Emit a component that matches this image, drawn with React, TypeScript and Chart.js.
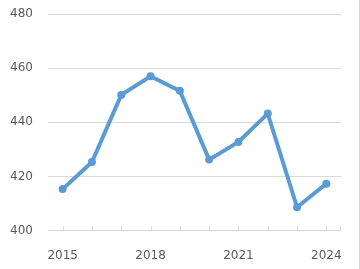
import React, { useEffect, useRef } from "react";
import { Chart, registerables } from "chart.js";

Chart.register(...registerables);

const years = ["2015", "2016", "2017", "2018", "2019", "2020", "2021", "2022", "2023", "2024"];
const values = [415.3, 425.3, 450.1, 457.0, 451.6, 426.2, 432.7, 443.2, 408.6, 417.3];
const yMin = 400;
const yMax = 480;
const yStep = 20;

const innerTicks = {
  id: "innerTicks",
  afterDatasetsDraw(chart: any) {
    const x = chart.scales.x;
    const { ctx, chartArea } = chart;
    ctx.save();
    ctx.strokeStyle = "#d9d9d9";
    ctx.lineWidth = 1;
    ctx.beginPath();
    for (let i = 0; i < years.length; i++) {
      const px = Math.round(x.getPixelForTick(i)) + 0.5;
      ctx.moveTo(px, chartArea.bottom);
      ctx.lineTo(px, chartArea.bottom - 4);
    }
    const ex = Math.round(chartArea.right) - 0.5;
    ctx.moveTo(ex, chartArea.bottom);
    ctx.lineTo(ex, chartArea.bottom - 4);
    ctx.stroke();
    ctx.restore();
  },
};

export default function App() {
  const ref = useRef<HTMLCanvasElement | null>(null);
  useEffect(() => {
    document.body.style.margin = "0";
    const chart = new Chart(ref.current!, {
      type: "line",
      data: {
        labels: years,
        datasets: [
          {
            data: values,
            borderColor: "#5b9bd5",
            backgroundColor: "#5b9bd5",
            borderWidth: 4,
            pointRadius: 4,
            pointBorderWidth: 0,
            tension: 0,
          },
        ],
      },
      options: {
        animation: false,
        responsive: false,
        layout: { padding: { top: 14, right: 19, left: 0, bottom: 0 } },
        plugins: { legend: { display: false }, tooltip: { enabled: false } },
        scales: {
          x: {
            offset: true,
            grid: { display: false },
            border: { display: false },
            afterFit: (s: any) => { s.height = 38.5; s.paddingLeft = 0; s.paddingRight = 0; },
            ticks: {
              autoSkip: false,
              maxRotation: 0,
              padding: 10,
              color: "#595959",
              font: { family: "DejaVu Sans", size: 12 },
              callback: (_v: any, i: number) => (i % 3 === 0 ? years[i] : ""),
            },
          },
          y: {
            min: yMin,
            max: yMax,
            grid: { color: "#d9d9d9", drawTicks: false },
            border: { display: false },
            afterFit: (s: any) => { s.width = 48; s.paddingTop = 0; s.paddingBottom = 0; },
            ticks: {
              stepSize: yStep,
              padding: 15,
              color: "#595959",
              font: { family: "DejaVu Sans", size: 12 },
            },
          },
        },
      },
      plugins: [innerTicks],
    });
    return () => chart.destroy();
  }, []);
  return (
    <div style={{ position: "relative", width: 360, height: 269, background: "#fff" }}>
      <canvas ref={ref} width={360} height={269} style={{ display: "block" }} />
      <div style={{ position: "absolute", right: 0, top: 0, width: 1, height: 269, background: "#d9d9d9" }} />
    </div>
  );
}
